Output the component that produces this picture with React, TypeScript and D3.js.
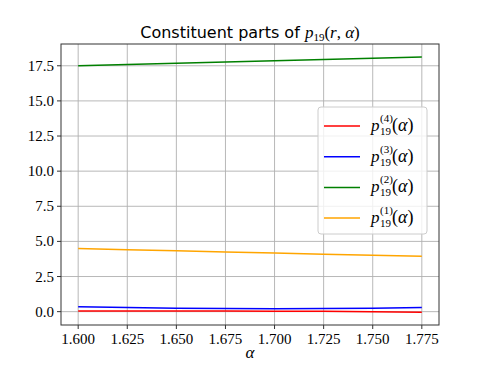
import React from "react";
import * as d3 from "d3";

const alphas = [1.6, 1.625, 1.65, 1.675, 1.7, 1.725, 1.75, 1.775];
const p4 = [0.05, 0.05, 0.05, 0.04, 0.03, 0.02, 0.0, -0.04];
const p3 = [0.35, 0.29, 0.25, 0.22, 0.21, 0.22, 0.25, 0.3];
const p2 = [17.5, 17.59, 17.68, 17.77, 17.86, 17.95, 18.04, 18.13];
const p1 = [4.5, 4.41, 4.33, 4.25, 4.17, 4.09, 4.02, 3.95];
const xTicks = [1.6, 1.625, 1.65, 1.675, 1.7, 1.725, 1.75, 1.775];
const yTicks = [0, 2.5, 5, 7.5, 10, 12.5, 15, 17.5];

const series = [
  { sup: "(4)", values: p4, color: "red" },
  { sup: "(3)", values: p3, color: "blue" },
  { sup: "(2)", values: p2, color: "green" },
  { sup: "(1)", values: p1, color: "orange" },
];

const W = 488;
const H = 366;
const left = 61;
const right = 439;
const top = 44;
const bottom = 325;

const serif = "'Liberation Serif', 'DejaVu Serif', serif";
const sans = "'DejaVu Sans', 'Liberation Sans', sans-serif";

export default function App() {
  const x = d3.scaleLinear().domain([1.6 - 0.00875, 1.775 + 0.00875]).range([left, right]);
  const y = d3.scaleLinear().domain([-0.95, 19.05]).range([bottom, top]);
  const line = d3
    .line<number>()
    .x((_, i) => x(alphas[i]))
    .y((d) => y(d));

  return (
    <svg width={W} height={H} style={{ position: "absolute", left: 0, top: 0 }}>
      <rect width={W} height={H} fill="white" />
      {/* grid */}
      {xTicks.map((t) => (
        <line key={"gx" + t} x1={x(t)} x2={x(t)} y1={top} y2={bottom} stroke="#b0b0b0" strokeWidth={0.9} />
      ))}
      {yTicks.map((t) => (
        <line key={"gy" + t} x1={left} x2={right} y1={y(t)} y2={y(t)} stroke="#b0b0b0" strokeWidth={0.9} />
      ))}
      {/* series */}
      {series.map((s) => (
        <path key={s.sup} d={line(s.values) || ""} fill="none" stroke={s.color} strokeWidth={1.5} />
      ))}
      {/* spines */}
      <rect x={left} y={top} width={right - left} height={bottom - top} fill="none" stroke="#333" strokeWidth={1} />
      {/* ticks */}
      {xTicks.map((t) => (
        <g key={"tx" + t}>
          <line x1={x(t)} x2={x(t)} y1={bottom} y2={bottom + 4} stroke="#333" />
          <text x={x(t)} y={bottom + 19} textAnchor="middle" fontFamily={serif} fontSize={15}>
            {d3.format(".3f")(t)}
          </text>
        </g>
      ))}
      {yTicks.map((t) => (
        <g key={"ty" + t}>
          <line x1={left - 4} x2={left} y1={y(t)} y2={y(t)} stroke="#333" />
          <text x={left - 7} y={y(t) + 5} textAnchor="end" fontFamily={serif} fontSize={15}>
            {d3.format(".1f")(t)}
          </text>
        </g>
      ))}
      {/* x label */}
      <text x={(left + right) / 2} y={358} textAnchor="middle" fontFamily={serif} fontStyle="italic" fontSize={17}>
        α
      </text>
      {/* title */}
      <text x={(left + right) / 2} y={38} textAnchor="middle" fontSize={16}>
        <tspan fontFamily={sans}>Constituent parts of </tspan>
        <tspan fontFamily={serif} fontStyle="italic" fontSize={17}>p</tspan>
        <tspan fontFamily={serif} fontSize={11} dy={3}>19</tspan>
        <tspan fontFamily={serif} fontSize={17} dy={-3}>(</tspan>
        <tspan fontFamily={serif} fontStyle="italic" fontSize={17}>r</tspan>
        <tspan fontFamily={serif} fontSize={17}>, </tspan>
        <tspan fontFamily={serif} fontStyle="italic" fontSize={17}>α</tspan>
        <tspan fontFamily={serif} fontSize={17}>)</tspan>
      </text>
      {/* legend */}
      <rect x={318} y={107} width={109} height={127} rx={3} fill="white" fillOpacity={0.8} stroke="#ccc" />
      {series.map((s, i) => {
        const ly = 126 + i * 30.7;
        return (
          <g key={"lg" + s.sup}>
            <line x1={324} x2={360} y1={ly} y2={ly} stroke={s.color} strokeWidth={1.5} />
            <text x={371} y={ly + 5} fontFamily={serif} fontSize={17} fontStyle="italic">p</text>
            <text x={380} y={ly - 4} fontFamily={serif} fontSize={11}>{s.sup}</text>
            <text x={380} y={ly + 9} fontFamily={serif} fontSize={11}>19</text>
            <text x={392} y={ly + 5} fontFamily={serif} fontSize={18}>
              <tspan>(</tspan>
              <tspan fontStyle="italic">α</tspan>
              <tspan>)</tspan>
            </text>
          </g>
        );
      })}
    </svg>
  );
}
